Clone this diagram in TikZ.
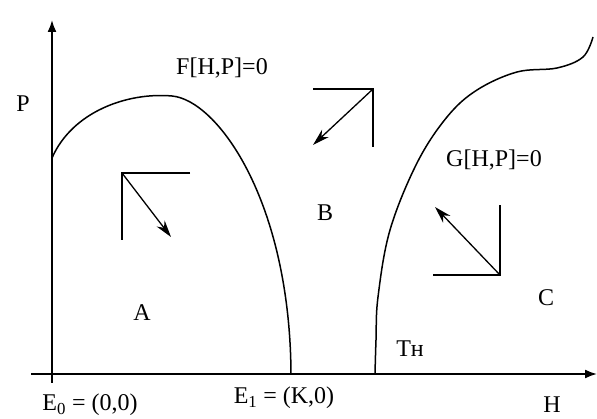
\documentclass[tikz,border=0pt]{standalone}
\usepackage{fontspec}
\setmainfont{Liberation Serif}
\usetikzlibrary{arrows.meta}
\begin{document}
\begin{tikzpicture}[x=1pt,y=-1pt,
  lbl/.style={font=\fontsize{24}{26}\selectfont, inner sep=0pt},
  axis/.style={line width=1.8pt, -{Latex[length=12pt,width=9pt]}},
  curve/.style={line width=1.5pt},
  corner/.style={line width=1.7pt},
  dirarrow/.style={line width=1.3pt, -{Stealth[length=17pt,width=10pt]}}]
\useasboundingbox (0,0) rectangle (597,419);
% axes
\coordinate (o1) at (52,383);
\coordinate (pt) at (52,20);
\coordinate (h0) at (31,374);
\coordinate (ht) at (597,374);
\draw[axis] (o1) -- (pt);
\draw[axis] (h0) -- (ht);
% F curve
\coordinate (f0) at (52,158);
\coordinate (fp) at (172,96);
\coordinate (f1) at (291,374);
\draw[curve] (f0) .. controls (72,112) and (127,92) .. (fp)
  .. controls (217,100) and (290,200) .. (f1);
% G curve
\draw[curve] plot[smooth, tension=0.6] coordinates {(375,374) (376,340) (378,297) (390,230) (417,163) (447,117) (477,90) (517,72) (557,68) (583,57) (593,37)};
% corner in A
\coordinate (ca) at (122,173);
\coordinate (cah) at (190,173);
\coordinate (cav) at (122,240);
\coordinate (cat) at (171,237);
\draw[corner] (cah) -- (ca) -- (cav);
\draw[dirarrow] (ca) -- (cat);
% corner in B
\coordinate (cb) at (373,89);
\coordinate (cbh) at (313,89);
\coordinate (cbv) at (373,147);
\coordinate (cbt) at (313,145);
\draw[corner] (cbh) -- (cb) -- (cbv);
\draw[dirarrow] (cb) -- (cbt);
% corner in C
\coordinate (cc) at (500,275);
\coordinate (cch) at (433,275);
\coordinate (ccv) at (500,205);
\coordinate (cct) at (435,207);
\draw[corner] (cch) -- (cc) -- (ccv);
\draw[dirarrow] (cc) -- (cct);
% labels
\node[lbl] (P) at (23,104) {P};
\node[lbl] (F) at (222,68) {F[H,P]=0};
\node[lbl] (G) at (494,160) {G[H,P]=0};
\node[lbl] (A) at (142,313) {A};
\node[lbl] (B) at (325,213) {B};
\node[lbl] (C) at (546,298) {C};
\node[lbl] (T) at (410,349) {Tн};
\node[lbl] (E0) at (90,405) {E\textsubscript{0} = (0,0)};
\node[lbl] (E1) at (284,398) {E\textsubscript{1} = (K,0)};
\node[lbl] (H) at (552,405) {H};
\end{tikzpicture}
\end{document}
